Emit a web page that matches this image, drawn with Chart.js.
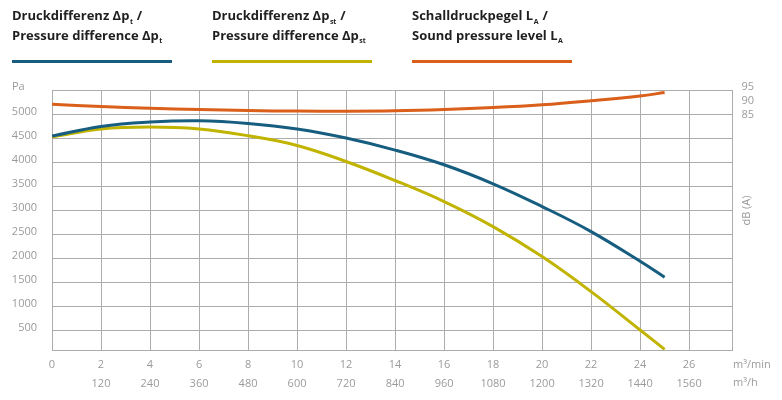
<!DOCTYPE html>
<html><head><meta charset="utf-8">
<script src="https://cdn.jsdelivr.net/npm/chart.js@4/dist/chart.umd.min.js"></script>
<style>html,body{margin:0;padding:0;background:#fff}#wrap{width:782px;height:400px}</style>
</head><body><div id="wrap"><canvas id="c" width="782" height="400"></canvas></div>
<script>
// ---- data ----
const flowPoints = [0, 2, 4, 6, 8, 10, 12, 14, 16, 18, 20, 22, 24, 25];           // m³/min
const pressureTotal = [4542, 4742, 4833, 4860, 4804, 4688, 4500, 4250, 3944, 3548, 3075, 2554, 1935, 1604]; // Pa
const pressureStatic = [4521, 4688, 4729, 4688, 4548, 4346, 4013, 3617, 3179, 2658, 2033, 1304, 506, 104];  // Pa
const soundLevel = [90.9, 90.1, 89.5, 89.0, 88.65, 88.45, 88.4, 88.55, 89.0, 89.7, 90.7, 92.15, 93.85, 95.1];  // dB(A)

const flowTicksMin = [0, 2, 4, 6, 8, 10, 12, 14, 16, 18, 20, 22, 24, 26];
const flowTicksHour = ['', '120', '240', '360', '480', '600', '720', '840', '960', '1080', '1200', '1320', '1440', '1560'];
const pressureTicks = [500, 1000, 1500, 2000, 2500, 3000, 3500, 4000, 4500, 5000, 5500];
const soundTicks = [85, 90, 95];

const legendItems = [
  {lines: [['Druckdifferenz Δp', 't', ' /'], ['Pressure difference Δp', 't', '']], color: '#165d80'},
  {lines: [['Druckdifferenz Δp', 'st', ' /'], ['Pressure difference Δp', 'st', '']], color: '#c1b400'},
  {lines: [['Schalldruckpegel L', 'A', ' /'], ['Sound pressure level L', 'A', '']], color: '#d95f1a'}
];

const GRID = '#acacac';
const TXT = '#9b9b9b';
const FONT = "'Open Sans', sans-serif";

const extras = {
  id: 'extras',
  afterDraw(chart) {
    const ctx = chart.ctx;
    ctx.save();
    // legend
    legendItems.forEach((it, k) => {
      const x0 = 12 + k * 200;
      const ys = [16.7, 36.2];
      it.lines.forEach((ln, j) => {
        let x = x0;
        ctx.fillStyle = '#1f1f1f';
        ctx.textBaseline = 'middle';
        ctx.textAlign = 'left';
        ctx.font = "bold 13px " + FONT;
        ctx.fillText(ln[0], x, ys[j]);
        x += ctx.measureText(ln[0]).width + 0.5;
        ctx.font = "bold 7px " + FONT;
        ctx.fillText(ln[1], x, ys[j] + 5);
        x += ctx.measureText(ln[1]).width + 0.5;
        ctx.font = "bold 13px " + FONT;
        ctx.fillText(ln[2], x, ys[j]);
      });
      ctx.fillStyle = it.color;
      ctx.fillRect(x0, 60, 160, 3);
    });
    // unit labels
    ctx.fillStyle = TXT;
    ctx.font = "11px " + FONT;
    ctx.textBaseline = 'middle';
    ctx.textAlign = 'left';
    ctx.fillText('Pa', 12, 86.7);
    ctx.fillText('m³/min', 733, 365);
    ctx.fillText('m³/h', 733, 383.3);
    ctx.translate(747.3, 210.5);
    ctx.rotate(-Math.PI / 2);
    ctx.textAlign = 'center';
    ctx.fillText('dB (A)', 0, 0);
    ctx.restore();
  }
};

const mk = (ys) => flowPoints.map((x, i) => ({x: x, y: ys[i]}));

new Chart(document.getElementById('c'), {
  type: 'line',
  data: {
    datasets: [
      {data: mk(pressureTotal), borderColor: '#165d80', yAxisID: 'y'},
      {data: mk(pressureStatic), borderColor: '#c1b400', yAxisID: 'y'},
      {data: mk(soundLevel), borderColor: '#d95f1a', yAxisID: 'y2'}
    ]
  },
  options: {
    responsive: false,
    animation: false,
    devicePixelRatio: 1,
    layout: {padding: {top: 90, left: 0, right: 0, bottom: 0}},
    elements: {
      line: {borderWidth: 3, tension: 0.4, borderCapStyle: 'butt', fill: false},
      point: {radius: 0}
    },
    plugins: {legend: {display: false}, tooltip: {enabled: false}},
    scales: {
      x: {
        type: 'linear', min: 0, max: 27.75,
        afterBuildTicks: s => { s.ticks = flowTicksMin.map(v => ({value: v})); },
        afterFit: s => { s.height = 50; },
        grid: {color: GRID, drawTicks: false, lineWidth: 1},
        border: {color: GRID},
        ticks: {
          autoSkip: false, maxRotation: 0, padding: 6, color: TXT,
          font: {family: FONT, size: 11, lineHeight: 1.66},
          callback: (v) => { const i = flowTicksMin.indexOf(v); return [String(v), flowTicksHour[i]]; }
        }
      },
      y: {
        type: 'linear', position: 'left', min: 90, max: 5500,
        afterBuildTicks: s => { s.ticks = pressureTicks.map(v => ({value: v})); },
        afterFit: s => { s.width = 52; },
        grid: {color: GRID, drawTicks: false},
        border: {color: GRID},
        ticks: {
          padding: 15, color: TXT, labelOffset: -2.5,
          font: {family: FONT, size: 11},
          callback: v => (v === 5500 ? '' : String(v))
        }
      },
      y2: {
        type: 'linear', position: 'right', min: 3, max: 96,
        afterBuildTicks: s => { s.ticks = soundTicks.map(v => ({value: v})); },
        afterFit: s => { s.width = 50; },
        grid: {display: false, drawTicks: false},
        border: {color: GRID},
        ticks: {
          padding: 9.5, color: TXT, labelOffset: -6.2,
          font: {family: FONT, size: 11},
          callback: v => String(v)
        }
      }
    }
  },
  plugins: [extras]
});
</script>
</body></html>
